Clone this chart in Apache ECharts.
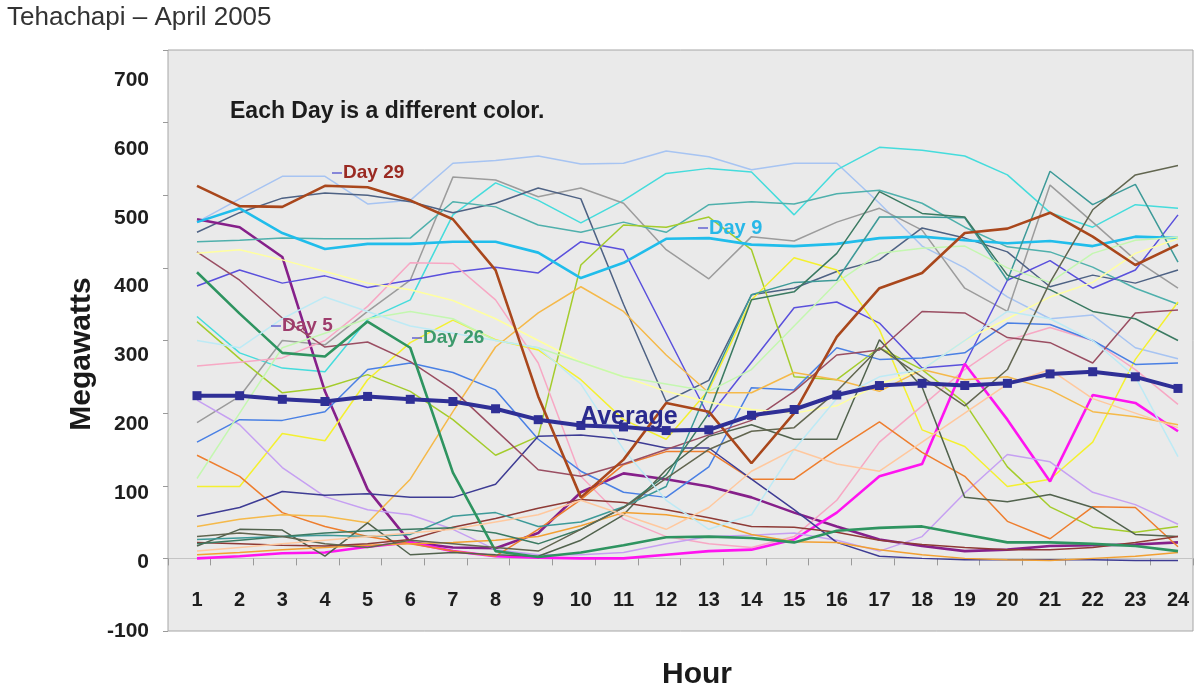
<!DOCTYPE html>
<html>
<head>
<meta charset="utf-8">
<title>Tehachapi – April 2005</title>
<script src="https://cdn.jsdelivr.net/npm/echarts@6/dist/echarts.min.js"></script>
<style>
  html, body { margin: 0; padding: 0; background: #ffffff; }
  #chart { width: 1198px; height: 691px; }
</style>
</head>
<body>
<div id="chart"></div>
<script>
// Hourly wind output (MW), Tehachapi, April 2005
const hours = ['1','2','3','4','5','6','7','8','9','10','11','12','13','14','15','16','17','18','19','20','21','22','23','24'];
const yTickLabels = ['-100','0','100','200','300','400','500','600','700'];

const day01 = [463,495,526,526,488,493,544,548,554,543,544,561,553,535,544,544,489,430,400,360,330,335,290,275];
const day02 = [333,283,262,257,329,356,473,517,493,462,493,530,537,532,473,535,566,562,554,528,476,456,487,482];
const day03 = [187,223,300,294,340,383,525,521,498,510,489,425,385,443,437,463,482,452,372,340,514,463,411,372];
const day04 = [449,476,496,503,500,491,476,489,510,495,350,216,245,363,372,395,411,455,441,422,374,390,379,397];
const day05 = [467,456,415,230,95,22,15,14,35,91,117,109,99,84,63,44,26,17,10,12,17,18,19,22];
const day06 = [436,438,441,440,440,441,491,484,459,449,463,449,487,491,488,502,507,489,456,429,422,401,372,350];
const day07 = [375,397,379,389,373,383,394,401,393,436,425,310,195,270,345,353,324,262,267,383,410,372,397,473];
const day08 = [326,275,228,235,253,230,191,142,168,404,459,456,470,425,250,246,290,260,214,126,71,43,36,44];
const day09 = [463,482,448,426,433,433,436,436,421,386,407,440,441,432,430,433,441,443,438,434,437,430,443,441];
const day10 = [99,99,172,162,246,297,328,301,287,246,191,164,232,356,414,397,315,177,154,99,109,160,274,353];
const day11 = [265,270,276,300,347,407,406,356,269,113,54,30,20,15,30,80,160,210,260,300,318,300,260,212];
const day12 = [0,3,7,8,16,22,10,3,1,0,0,5,10,12,26,63,113,130,268,191,106,225,214,175];
const day13 = [218,184,125,85,67,60,40,12,5,5,8,20,30,32,35,25,10,30,90,143,133,91,74,47];
const day14 = [160,191,190,202,260,269,256,232,164,120,91,84,126,235,232,290,274,276,283,324,322,300,267,269];
const day15 = [142,113,63,44,30,20,10,3,40,81,129,147,147,109,109,150,188,146,113,51,27,71,70,16];
const day16 = [44,54,60,58,49,109,202,291,338,374,340,280,228,228,256,246,230,260,246,250,232,202,195,184];
const day17 = [58,70,92,87,89,84,84,102,168,170,164,152,152,109,67,22,3,0,-2,-2,-2,-2,-3,-3];
const day18 = [17,40,39,3,49,5,8,5,3,25,60,122,168,184,164,164,301,236,84,78,88,70,33,30];
const day19 = [422,383,331,291,298,271,232,177,122,113,130,150,170,190,230,280,287,340,338,304,297,269,338,342];
const day20 = [5,8,12,15,18,20,22,25,30,45,63,60,51,33,23,22,12,5,0,-2,-3,0,3,8];
const day21 = [22,20,18,17,20,26,43,55,69,81,77,67,56,44,43,36,25,19,15,12,12,15,22,30];
const day22 = [26,28,30,32,30,33,58,63,44,50,71,99,236,363,380,383,470,470,469,383,533,487,515,408];
const day23 = [20,25,30,35,38,40,42,35,20,40,70,115,200,356,367,420,505,475,470,390,370,340,330,300];
const day24 = [420,425,411,395,379,370,355,330,300,270,250,230,215,205,200,210,240,260,300,330,360,380,420,440];
const day25 = [110,200,290,310,330,340,330,300,290,270,250,240,230,260,320,380,420,427,430,400,380,420,438,442];
const day26 = [394,337,283,278,326,290,118,10,2,8,18,29,30,28,22,38,42,44,33,22,22,20,17,10];
const day27 = [30,35,30,20,15,25,20,15,10,40,70,110,150,175,180,230,290,250,210,260,380,480,528,541];
const day28 = [300,290,330,360,340,320,310,300,290,240,150,80,40,60,150,220,250,260,300,340,330,300,250,140];
const day29 = [513,485,484,513,511,493,467,397,223,84,136,214,202,131,200,305,372,393,448,454,476,443,404,432];
const day30 = [10,15,20,25,30,35,40,50,60,80,60,40,70,120,150,130,120,160,200,240,260,220,200,180];
const average = [224,224,219,216,223,219,216,206,191,183,181,176,177,197,205,225,238,241,238,241,254,257,250,234];

const days = [day01,day02,day03,day04,day05,day06,day07,day08,day09,day10,
              day11,day12,day13,day14,day15,day16,day17,day18,day19,day20,
              day21,day22,day23,day24,day25,day26,day27,day28,day29,day30];

// one colour per day
const dayColors = ['#A7C4F2','#45DCDC','#9C9C9C','#4E6284','#86208A','#4FB0AC','#5A50DC','#A4CC2C','#20BDEB','#F4F030',
                   '#F7A8C4','#FF14F0','#C6A0F2','#4A80E4','#EE7E2E','#F5B94A','#3E3C94','#52634E','#9A4E62','#F2A032',
                   '#8E3A36','#3D9A98','#3B7A62','#FFFFA0','#C4F7B0','#2E9460','#626650','#BDEAF5','#A9471C','#FFC89E'];
const boldDays = [5, 9, 12, 26, 29];

const FONT = '"Liberation Sans", Arial, Helvetica, sans-serif';

const series = days.map((d, i) => ({
  name: 'Day ' + (i + 1),
  type: 'line',
  xAxisIndex: 1,
  yAxisIndex: 2,
  data: d,
  symbol: 'none',
  silent: true,
  lineStyle: { color: dayColors[i], width: boldDays.includes(i + 1) ? 2.6 : 1.5 },
  z: 2
}));
series.push({
  name: 'Average',
  type: 'line',
  xAxisIndex: 1,
  yAxisIndex: 2,
  data: average,
  symbol: 'rect',
  symbolSize: 9,
  silent: true,
  itemStyle: { color: '#2F2F96' },
  lineStyle: { color: '#2F2F96', width: 4 },
  z: 5
});

function tag(x, y, text, color, size) {
  return [
    { type: 'line', shape: { x1: x, y1: y, x2: x + 10, y2: y }, style: { stroke: '#6464D2', lineWidth: 1.5 }, z: 20 },
    { type: 'text', x: x + 11, y: y, z: 20,
      style: { text: text, fill: color, font: 'bold ' + size + 'px ' + FONT, verticalAlign: 'middle', align: 'left' } }
  ];
}

const chart = echarts.init(document.getElementById('chart'), null, { renderer: 'canvas' });
chart.setOption({
  animation: false,
  backgroundColor: '#ffffff',
  grid: [
    { left: 168, right: 5, top: 50, bottom: 60, show: true, backgroundColor: '#EAEAEA', borderColor: '#A6A6A6', borderWidth: 1 },
    { left: 197, right: 20, top: 50, bottom: 60 }
  ],
  xAxis: [
    { gridIndex: 0, type: 'category', data: hours.map(() => ''), boundaryGap: true,
      axisLine: { show: true, onZero: true, onZeroAxisIndex: 0, lineStyle: { color: '#C4C4C4', width: 1 } },
      axisTick: { show: true, length: 7, lineStyle: { color: '#9A9A9A' } },
      axisLabel: { show: false }, splitLine: { show: false } },
    // hour labels sit between the zero line and the lower edge of the plot
    { gridIndex: 1, type: 'category', data: hours, boundaryGap: false, position: 'bottom',
      axisLine: { show: false, onZero: false },
      axisTick: { show: false },
      axisLabel: { show: true, interval: 0, margin: -41, color: '#1E1E1E', fontSize: 20, fontWeight: 'bold', fontFamily: FONT },
      splitLine: { show: false } }
  ],
  yAxis: [
    { gridIndex: 0, type: 'value', position: 'left', min: -100, max: 700, interval: 100,
      axisLine: { show: false }, axisTick: { show: true, length: 5, lineStyle: { color: '#9A9A9A' } },
      axisLabel: { show: false }, splitLine: { show: false } },
    { gridIndex: 0, type: 'value', position: 'left', min: -100, max: 743.5, interval: 100,
      axisLine: { show: false }, axisTick: { show: false }, splitLine: { show: false },
      axisLabel: { show: true, showMaxLabel: false, margin: 19, color: '#1E1E1E', fontSize: 21, fontWeight: 'bold', fontFamily: FONT,
                   formatter: (v) => yTickLabels.includes(String(Math.round(v))) ? String(Math.round(v)) : '' } },
    { gridIndex: 1, type: 'value', min: -100, max: 700, interval: 100,
      axisLine: { show: false }, axisTick: { show: false }, axisLabel: { show: false }, splitLine: { show: false } }
  ],
  graphic: [
    { type: 'text', x: 7, y: 18, z: 20,
      style: { text: 'Tehachapi – April 2005', fill: '#333333', font: '26px ' + FONT, verticalAlign: 'middle', align: 'left' } },
    { type: 'text', x: 230, y: 112, z: 20,
      style: { text: 'Each Day is a different color.', fill: '#1C1C1C', font: 'bold 23px ' + FONT, verticalAlign: 'middle', align: 'left' } },
    ...tag(332, 173, 'Day 29', '#9A2A22', 19),
    ...tag(698, 228, 'Day 9', '#28B8E8', 20),
    ...tag(271, 326, 'Day 5', '#9E3C6C', 19),
    ...tag(412, 338, 'Day 26', '#3C9A6C', 19),
    { type: 'text', x: 580, y: 417, z: 20,
      style: { text: 'Average', fill: '#2A2A8E', font: 'bold 25px ' + FONT, verticalAlign: 'middle', align: 'left' } },
    { type: 'text', x: 697, y: 675, z: 20,
      style: { text: 'Hour', fill: '#1A1A1A', font: 'bold 30px ' + FONT, verticalAlign: 'middle', align: 'center' } },
    { type: 'text', x: 82, y: 354, rotation: Math.PI / 2, z: 20,
      style: { text: 'Megawatts', fill: '#1A1A1A', font: 'bold 30px ' + FONT, verticalAlign: 'middle', align: 'center' } }
  ],
  series: series
});
</script>
</body>
</html>
